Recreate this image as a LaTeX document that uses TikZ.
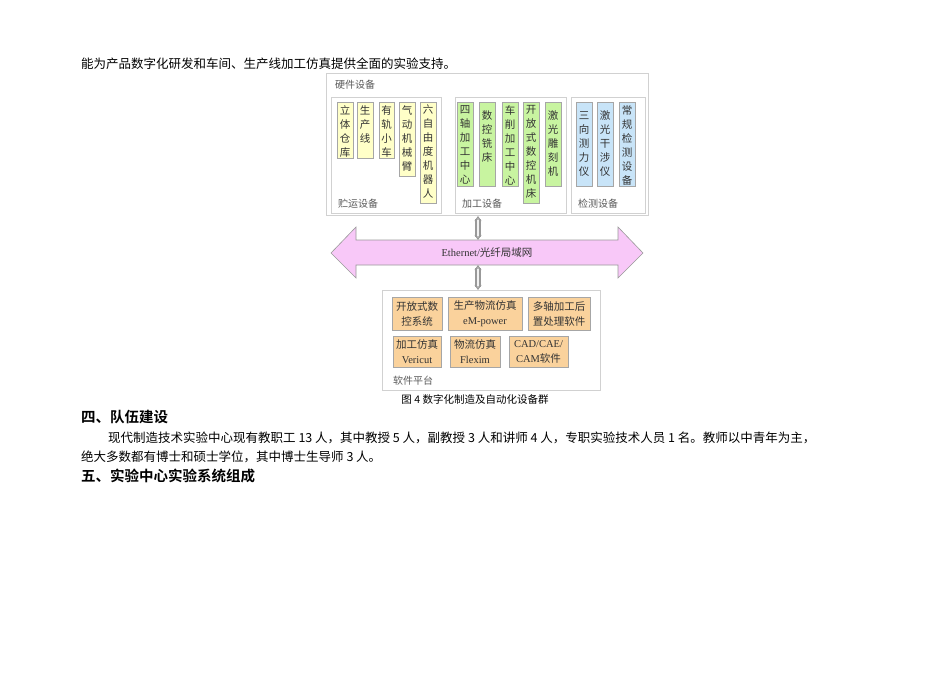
\documentclass[tikz,border=0pt]{standalone}
\usepackage{fontspec}
\setmainfont{Liberation Serif}
\newfontfamily\cjk{Noto Sans CJK SC}
\newfontfamily\cjkb{Noto Sans CJK SC Bold}
\usetikzlibrary{arrows.meta}
\definecolor{yel}{HTML}{FFFFC8}
\definecolor{grn}{HTML}{C8F4A0}
\definecolor{blu}{HTML}{C8E4F8}
\definecolor{org}{HTML}{FAD29C}
\definecolor{pnk}{HTML}{F8C8F8}
\tikzset{
  frame/.style={draw=black!18, line width=0.6pt},
  item/.style={draw=black!35, line width=0.5pt, inner sep=0pt},
  vtext/.style={anchor=north, align=center, inner sep=0pt, font=\cjk\fontsize{10.5}{14}\selectfont, text=black!80},
  lab/.style={anchor=base west, inner sep=0pt, font=\cjk\fontsize{10}{12}\selectfont, text=black!65},
  body/.style={anchor=base west, inner sep=0pt, font=\cjk\fontsize{12.5}{15}\selectfont},
  head/.style={anchor=base west, inner sep=0pt, font=\cjkb\fontsize{14.5}{17}\selectfont},
  sw/.style={anchor=center, align=center, inner sep=0pt, font=\cjk\fontsize{10.5}{15}\selectfont, text=black!80},
  vconn/.style={{Stealth[open,length=5pt,width=7pt]}-{Stealth[open,length=5pt,width=7pt]}, draw=black!40, line width=2.2pt, double=white!90!gray, double distance=1.6pt}
}
\newcommand\vitem[7]{% name, x1,x2,y1,y2, colour, text
  \fill[#6] (#2,#4) rectangle (#3,#5);
  \draw[black!35,line width=0.5pt] (#2,#4) rectangle (#3,#5);
  \node[vtext] (#1) at ({(#2+#3)/2},{#4+3}) {#7};}
\newcommand\sitem[6]{% name,x1,x2,y1,y2,text
  \fill[org] (#2,#4) rectangle (#3,#5);
  \draw[black!35,line width=0.5pt] (#2,#4) rectangle (#3,#5);
  \node[sw] (#1) at ({(#2+#3)/2},{(#4+#5)/2}) {#6};}
\begin{document}
\begin{tikzpicture}[x=1pt,y=-1pt]
\path[use as bounding box,fill=white] (0,0) rectangle (950,672);
\node[body] (t0) at (81,68) {能为产品数字化研发和车间、生产线加工仿真提供全面的实验支持。};
% hardware
\draw[frame] (326,73) rectangle (648,215);
\node[lab] (hw) at (335,88) {硬件设备};
\draw[frame] (331,97) rectangle (441,213);
\draw[frame] (455,97) rectangle (566,213);
\draw[frame] (571,97) rectangle (645,213);
\node[lab] (l1) at (338,207) {贮运设备};
\node[lab] (l2) at (462,207) {加工设备};
\node[lab] (l3) at (578,207) {检测设备};
\vitem{a1}{337}{353}{102}{158}{yel}{立\\体\\仓\\库}
\vitem{a2}{357}{373}{102}{158}{yel}{生\\产\\线}
\vitem{a3}{379}{394}{102}{158}{yel}{有\\轨\\小\\车}
\vitem{a4}{399}{415}{102}{176}{yel}{气\\动\\机\\械\\臂}
\vitem{a5}{420}{436}{102}{203}{yel}{六\\自\\由\\度\\机\\器\\人}
\vitem{b1}{457}{473}{102}{186}{grn}{四\\轴\\加\\工\\中\\心}
\vitem{b2}{479}{495}{102}{186}{grn}{\\数\\控\\铣\\床}
\vitem{b3}{502}{518}{102}{186}{grn}{车\\削\\加\\工\\中\\心}
\vitem{b4}{523}{539}{102}{203}{grn}{开\\放\\式\\数\\控\\机\\床}
\vitem{b5}{545}{561}{102}{186}{grn}{\\激\\光\\雕\\刻\\机}
\vitem{c1}{576}{592}{102}{186}{blu}{\\三\\向\\测\\力\\仪}
\vitem{c2}{597}{613}{102}{186}{blu}{\\激\\光\\干\\涉\\仪}
\vitem{c3}{619}{635}{102}{186}{blu}{常\\规\\检\\测\\设\\备}
\coordinate (hwb) at (478,216);
% network arrow
\draw[fill=pnk,draw=black!40,line width=0.6pt] (331,253) -- (356,227) -- (356,240) -- (618,240) -- (618,227) -- (643,253) -- (618,278) -- (618,265) -- (356,265) -- (356,278) -- cycle;
\node[anchor=center,inner sep=0pt,font=\fontsize{10.5}{12}\selectfont,text=black!80] (net) at (487,253) {Ethernet/{\cjk 光纤局域网}};
\coordinate (nt) at (478,240);
\coordinate (nb) at (478,265);
\draw[vconn] (hwb) -- (nt);
% software
\draw[frame] (382,290) rectangle (600,390);
\coordinate (swt) at (478,290);
\draw[vconn] (nb) -- (swt);
\sitem{s1}{392}{442}{297}{330}{开放式数\\控系统}
\sitem{s2}{448}{522}{297}{330}{生产物流仿真\\{\rmfamily eM-power}}
\sitem{s3}{528}{590}{297}{330}{多轴加工后\\置处理软件}
\sitem{s4}{393}{441}{336}{367}{加工仿真\\{\rmfamily Vericut}}
\sitem{s5}{450}{500}{336}{367}{物流仿真\\{\rmfamily Flexim}}
\sitem{s6}{509}{568}{336}{367}{{\rmfamily CAD/CAE/}\\{\rmfamily CAM}软件}
\node[lab] (swl) at (393,384) {软件平台};
\node[anchor=base,inner sep=0pt,font=\cjk\fontsize{10.5}{12}\selectfont] (cap) at (475,403) {图 4 数字化制造及自动化设备群};
\node[head] (h4) at (81,422) {四、队伍建设};
\node[body] (p1) at (108,442) {现代制造技术实验中心现有教职工 13 人，其中教授 5 人，副教授 3 人和讲师 4 人，专职实验技术人员 1 名。教师以中青年为主，};
\node[body] (p2) at (81,461) {绝大多数都有博士和硕士学位，其中博士生导师 3 人。};
\node[head] (h5) at (81,481) {五、实验中心实验系统组成};
\end{tikzpicture}
\end{document}
